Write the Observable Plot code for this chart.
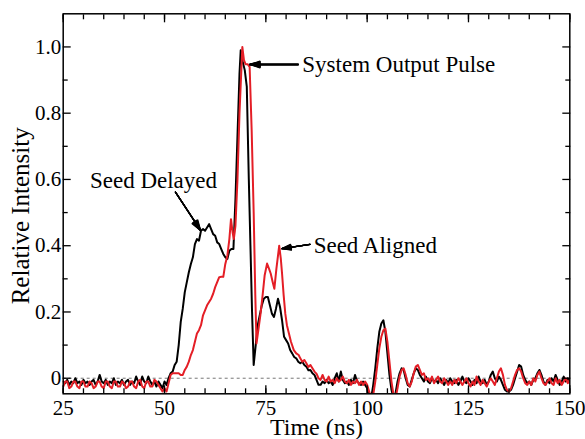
<!DOCTYPE html>
<html><head><meta charset="utf-8">
<script src="https://cdn.jsdelivr.net/npm/d3@7"></script>
<script src="https://cdn.jsdelivr.net/npm/@observablehq/plot@0.6"></script>
<style>
body{margin:0;background:#fff}
#chart svg text { font-family: "Liberation Serif", Tinos, "Times New Roman", Times, "Nimbus Roman", "DejaVu Serif", serif !important; }
</style>
</head><body><div id="chart"></div>
<script>
// ---- Data (time in ns, relative intensity) ----
const preTime = d3.range(25, 50.001, 0.5);
const blackPre = [
  -0.01,-0.015,-0.005,-0.02,-0.01,-0.015,0.0,-0.015,-0.01,-0.02,
  -0.005,-0.015,-0.01,-0.02,-0.01,-0.005,-0.02,-0.01,0.01,-0.01,
  -0.015,-0.005,-0.02,-0.01,-0.015,0.0,-0.02,-0.01,-0.015,-0.005,
  -0.02,-0.01,-0.005,-0.02,-0.01,-0.015,0.005,-0.01,-0.02,0.005,
  -0.01,-0.015,0.005,-0.01,-0.02,-0.01,-0.025,-0.01,-0.02,-0.03,
  -0.01];
const redPre = [
  -0.025,-0.01,-0.01,-0.03,-0.025,-0.01,-0.01,-0.025,-0.03,-0.01,
  -0.01,-0.025,-0.025,-0.01,-0.015,-0.03,-0.025,-0.01,-0.01,-0.025,
  -0.03,-0.01,-0.01,-0.025,-0.03,-0.01,-0.01,-0.025,-0.025,-0.01,
  -0.015,-0.03,-0.025,-0.01,-0.01,-0.025,-0.03,-0.01,-0.005,-0.025,
  -0.03,-0.01,-0.01,-0.025,-0.025,-0.005,-0.01,-0.02,-0.03,-0.04,
  -0.03];

const blackPulseT = [50.5,51,51.5,52,52.5,53,53.5,54,54.5,55,55.5,56,56.5,57,57.5,58,58.5,59,59.5,60,
  60.5,61,61.5,62,62.5,63,63.5,64,64.5,65,65.5,66,66.5,67,67.5,68,68.5,
  68.8,69.2,69.8,70.3,70.8,71.2,71.6,
  72,72.5,73,73.5,74,74.5,75,75.5,76,76.5,77,77.5,78,78.5,79,79.5,80,80.5,81,81.5,82,82.5,83,83.5,84,84.5,85,85.5,86,86.5,87,87.5,88];
const blackPulseV = [
  -0.02,0.0,0.015,0.02,0.04,0.05,0.1,0.17,0.21,0.26,
  0.29,0.32,0.345,0.365,0.405,0.42,0.415,0.445,0.45,0.445,
  0.455,0.465,0.45,0.435,0.43,0.41,0.405,0.39,0.375,0.365,
  0.36,0.385,0.39,0.39,0.54,0.73,0.92,
  0.99,0.96,0.93,0.88,0.6,0.4,0.2,
  0.04,0.1,0.16,0.19,0.22,0.24,0.245,0.245,0.22,0.195,
  0.185,0.21,0.24,0.215,0.175,0.125,0.115,0.105,0.085,0.075,
  0.064,0.06,0.05,0.045,0.05,0.04,0.035,0.024,0.025,0.015,
  0.01,-0.005,-0.02];

const redPulseT = [50.5,51,51.5,52,52.5,53,53.5,54,54.5,55,55.5,56,56.5,57,57.5,58,58.5,59,59.5,60,
  60.5,61,61.5,62,62.5,63,63.5,64,64.5,65,65.5,66,
  66.4,66.8,67.1,67.5,68,68.5,
  69.2,69.6,70,70.5,71,71.5,72,72.4,72.7,
  73.2,73.7,74.2,74.7,75.3,75.8,76.2,76.7,77.1,77.6,
  78.3,78.7,79.0,79.4,79.8,80.2,80.7,81.2,81.9,82.5,
  83.1,83.5,84,84.5,85,85.5,86,86.5,87,87.5,88];
const redPulseV = [
  -0.04,-0.015,0.01,0.015,0.015,0.015,0.015,0.01,0.01,0.025,
  0.035,0.05,0.07,0.085,0.11,0.135,0.145,0.16,0.19,0.205,
  0.22,0.23,0.24,0.255,0.275,0.29,0.305,0.306,0.306,0.345,
  0.37,0.42,
  0.48,0.44,0.42,0.46,0.6,0.8,
  1.0,0.96,0.948,0.948,0.94,0.75,0.5,0.25,0.105,
  0.15,0.195,0.25,0.31,0.346,0.33,0.316,0.29,0.27,0.33,
  0.4,0.36,0.316,0.25,0.195,0.16,0.135,0.11,0.085,0.075,
  0.07,0.06,0.05,0.055,0.045,0.034,0.04,0.03,0.02,0.014,0.0];

const postTime = d3.range(88.5, 150.001, 0.5);
const blackPost = [
  -0.02,-0.01,-0.015,-0.005,-0.015,-0.01,-0.02,0.0,0.015,-0.01,
  0.02,-0.005,-0.015,-0.01,-0.02,-0.005,-0.015,0.01,-0.01,-0.015,
  -0.02,-0.01,-0.02,-0.03,-0.06,-0.06,-0.02,0.03,0.09,0.14,
  0.165,0.175,0.14,0.075,0.01,-0.035,-0.06,-0.045,-0.01,0.015,
  0.03,0.025,0.0,-0.02,-0.025,-0.005,0.015,0.03,0.025,0.01,
  0.0,-0.01,0.005,-0.01,-0.015,0.0,-0.01,-0.005,-0.015,0.0,
  -0.01,-0.02,-0.005,-0.015,0.0,-0.01,-0.015,-0.005,-0.02,-0.01,
  0.005,-0.01,-0.015,0.0,-0.01,-0.02,-0.005,-0.015,0.005,-0.01,
  -0.015,-0.005,-0.02,-0.01,0.01,0.02,0.0,-0.01,0.005,-0.005,
  -0.02,-0.035,-0.04,-0.04,-0.035,-0.02,0.0,0.02,0.04,0.035,
  0.01,-0.005,-0.015,-0.01,-0.02,-0.005,0.0,0.015,0.025,0.01,
  -0.01,-0.02,-0.005,-0.015,0.0,-0.01,0.01,-0.005,-0.02,-0.01,
  0.005,-0.01,0.0,-0.01];
const redPost = [
  -0.005,0.01,-0.005,-0.01,0.005,-0.01,-0.005,-0.015,0.0,-0.01,
  -0.005,0.005,-0.01,-0.015,-0.005,-0.02,-0.01,-0.015,-0.005,-0.02,
  -0.01,-0.02,-0.01,-0.02,-0.04,-0.06,-0.05,-0.01,0.04,0.09,
  0.125,0.145,0.15,0.11,0.05,-0.01,-0.05,-0.06,-0.03,0.005,
  0.025,0.03,0.01,-0.015,-0.025,-0.01,0.015,0.035,0.04,0.025,
  0.01,0.015,-0.005,0.0,-0.01,0.005,-0.015,-0.005,0.005,-0.01,
  -0.015,0.0,-0.01,-0.02,-0.01,-0.02,-0.005,-0.015,0.0,-0.01,
  -0.02,-0.01,0.0,-0.015,-0.025,-0.01,-0.02,0.005,-0.01,-0.02,
  -0.005,-0.015,-0.025,-0.01,0.0,-0.01,-0.02,0.0,0.02,0.03,
  0.01,-0.02,-0.035,-0.04,-0.03,-0.01,0.01,0.025,0.03,0.02,
  0.0,-0.015,-0.02,-0.01,-0.02,0.0,-0.01,0.01,0.02,0.0,
  -0.015,-0.02,-0.01,0.0,-0.015,-0.02,0.0,-0.015,-0.005,-0.02,
  -0.01,0.0,-0.015,-0.005];

const xMajor = [25, 50, 75, 100, 125, 150];
const xMinor = [25,30,35,40,45,50,55,60,65,70,75,80,85,90,95,100,105,110,115,120,125,130,135,140,145,150];
const yMajor = [0, 0.2, 0.4, 0.6, 0.8, 1.0];
const yMinor = [0.1, 0.3, 0.5, 0.7, 0.9];

const labels = [
  {x: 84.0, y: 0.947, text: "System Output Pulse"},
  {x: 31.6, y: 0.595, text: "Seed Delayed"},
  {x: 86.8, y: 0.400, text: "Seed Aligned"}
];
const arrows = [
  {x1: 83.0, y1: 0.947, x2: 71.0, y2: 0.947},
  {x1: 52.7, y1: 0.562, x2: 58.9, y2: 0.446},
  {x1: 85.9, y1: 0.404, x2: 79.0, y2: 0.391}
];

// ---- Build rows ----
const rows = (ts, vs) => ts.map((t, i) => ({t, v: vs[i]}));
const black = [...rows(preTime, blackPre), ...rows(blackPulseT, blackPulseV), ...rows(postTime, blackPost)];
const red = [...rows(preTime, redPre), ...rows(redPulseT, redPulseV), ...rows(postTime, redPost)];

const FONT = "Liberation Serif, Tinos, Times New Roman, Times, DejaVu Serif, serif";
const fmtY = d => d === 0 ? "0" : d3.format(".1f")(d);
const none = () => "";
const RED = "#e41e26";

const chart = Plot.plot({
  width: 585,
  height: 439,
  marginLeft: 62.7,
  marginRight: 15.7,
  marginTop: 13.3,
  marginBottom: 45.7,
  style: "font-family: 'Liberation Serif', serif; font-size: 21px; background: #fff; color: #000;",
  x: {domain: [25, 150], label: null},
  y: {domain: [-0.047, 1.1], label: null},
  marks: [
    Plot.ruleY([0], {stroke: "#777", strokeDasharray: "3,3", strokeWidth: 1}),
    Plot.line(black, {x: "t", y: "v", stroke: "#000", strokeWidth: 2, clip: true}),
    Plot.line(red, {x: "t", y: "v", stroke: RED, strokeWidth: 2, clip: true}),
    Plot.frame({stroke: "#000", strokeWidth: 1.5}),
    Plot.axisX(xMajor, {anchor: "bottom", tickSize: -8, tickPadding: 14, strokeWidth: 1.3, fontSize: 21, fontFamily: FONT, label: null, tickFormat: d => String(d)}),
    Plot.axisX(xMinor, {anchor: "bottom", tickSize: -5, strokeWidth: 1.3, label: null, tickFormat: none}),
    Plot.axisX(xMajor, {anchor: "top", tickSize: -8, strokeWidth: 1.3, label: null, tickFormat: none}),
    Plot.axisX(xMinor, {anchor: "top", tickSize: -5, strokeWidth: 1.3, label: null, tickFormat: none}),
    Plot.axisY(yMajor, {anchor: "left", tickSize: -8, tickPadding: 10, strokeWidth: 1.3, fontSize: 21, fontFamily: FONT, label: null, tickFormat: fmtY}),
    Plot.axisY(yMinor, {anchor: "left", tickSize: -5, strokeWidth: 1.3, label: null, tickFormat: none}),
    Plot.axisY(yMajor, {anchor: "right", tickSize: -8, strokeWidth: 1.3, label: null, tickFormat: none}),
    Plot.axisY(yMinor, {anchor: "right", tickSize: -5, strokeWidth: 1.3, label: null, tickFormat: none}),
    Plot.text(["Time (ns)"], {frameAnchor: "bottom", dy: 34, fontSize: 24, fontFamily: FONT, textAnchor: "middle", lineAnchor: "middle"}),
    Plot.text(["Relative Intensity"], {frameAnchor: "left", rotate: -90, dx: -42, dy: 12, fontSize: 25, fontFamily: FONT, textAnchor: "middle", lineAnchor: "middle"}),
    Plot.text(labels, {x: "x", y: "y", text: "text", textAnchor: "start", lineAnchor: "middle", fontSize: 23, fontFamily: FONT}),
    ...[6, 12, 18, 24, 30, 36].map(a => Plot.arrow(arrows, {x1: "x1", y1: "y1", x2: "x2", y2: "y2", headAngle: a, headLength: 12.5, stroke: "#000", strokeWidth: 1.3}))
  ]
});
document.getElementById("chart").appendChild(chart);
</script></body></html>
